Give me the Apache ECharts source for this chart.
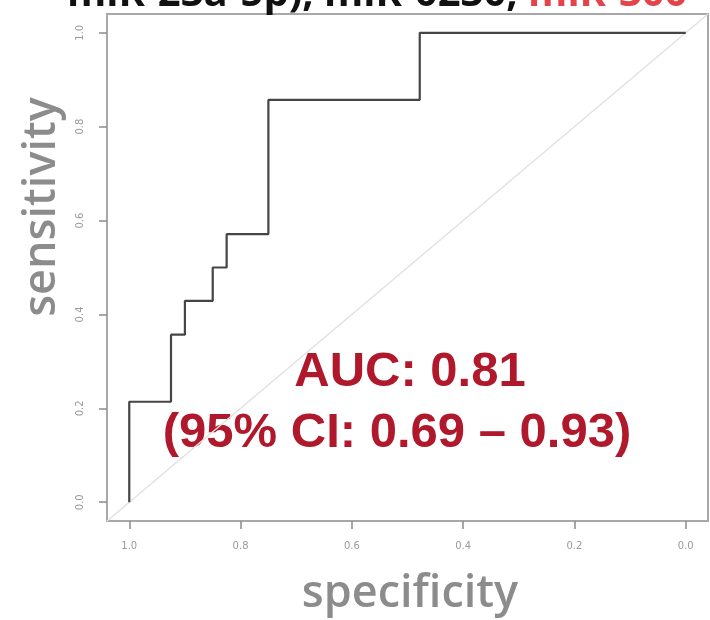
<!DOCTYPE html>
<html><head><meta charset="utf-8">
<script src="https://cdn.jsdelivr.net/npm/echarts@6/dist/echarts.min.js"></script>
<style>html,body{margin:0;padding:0;background:#fff}#c{width:710px;height:620px}</style>
</head><body><div id="c"></div>
<script>
const specificity = [1.0, 0.925, 0.9, 0.85, 0.825, 0.75, 0.478, 0.0];
const sensitivity = [0.0, 0.214, 0.357, 0.429, 0.5, 0.571, 0.857, 1.0];
const tickValues = [0.0, 0.2, 0.4, 0.6, 0.8, 1.0];
const xTickLabels = ['0.0', '0.2', '0.4', '0.6', '0.8', '1.0'];
const yTickLabels = ['0.0', '0.2', '0.4', '0.6', '0.8', '1.0'];
const chanceX = [1.04, -0.04];
const chanceY = [-0.04, 1.04];
const titleBlack = 'miR-23a-5p), miR-0230, ';
const titleRed = 'miR-300';
const aucText = 'AUC: 0.81';
const ciText = '(95% CI: 0.69 \u2013 0.93)';
const xName = 'specificity';
const yName = 'sensitivity';

const chart = echarts.init(document.getElementById('c'), null, {renderer: 'canvas'});
const tickFmt = (labels) => (v) => labels[Math.round(v / 0.2)];
const grey = '#9a9a9a';
const red = '#b0182c';
const axisCommon = {
  type: 'value', min: -0.04, max: 1.04,
  axisLine: {show: true, onZero: false, lineStyle: {color: '#a8a8a8', width: 2}}, splitLine: {show: false},
  axisTick: {show: true, inside: false, length: 8, customValues: tickValues, lineStyle: {color: '#8a8a8a', width: 1.5}}
};

chart.setOption({
  animation: false,
  backgroundColor: '#fff',
  title: {
    text: '{a|' + titleBlack + '}{b|' + titleRed + '}',
    left: 62, top: -30,
    textStyle: {
      rich: {
        a: {color: '#111', fontSize: 40, fontWeight: 'bold', fontFamily: 'Open Sans'},
        b: {color: '#e5434a', fontSize: 40, fontWeight: 'bold', fontFamily: 'Open Sans'}
      }
    }
  },
  grid: {left: 107, top: 14, width: 601, height: 507, show: true, borderColor: '#a8a8a8', borderWidth: 2, backgroundColor: 'transparent'},
  xAxis: Object.assign({}, axisCommon, {
    inverse: true, position: 'bottom',
    axisLabel: {customValues: tickValues, color: grey, fontSize: 10, margin: 20, formatter: tickFmt(xTickLabels), fontFamily: 'DejaVu Sans'}
  }),
  yAxis: Object.assign({}, axisCommon, {
    position: 'left',
    axisLabel: {customValues: tickValues, color: grey, fontSize: 10, margin: 22, rotate: 90, formatter: tickFmt(yTickLabels), fontFamily: 'DejaVu Sans'}
  }),
  series: [
    {type: 'line', clip: false, symbol: 'none', silent: true,
     data: chanceX.map((x, i) => [x, chanceY[i]]),
     lineStyle: {color: '#e2e2e2', width: 1.5}},
    {type: 'line', step: 'start', symbol: 'none', clip: false,
     data: specificity.map((s, i) => [s, sensitivity[i]]),
     lineStyle: {color: '#454545', width: 2.2}}
  ],
  graphic: [
    {type: 'text', x: 410, y: 372, style: {text: aucText, align: 'center', verticalAlign: 'middle', fill: red, font: 'bold 49px "Liberation Sans", Arial, sans-serif'}},
    {type: 'text', x: 397, y: 433, style: {text: ciText, align: 'center', verticalAlign: 'middle', fill: red, font: 'bold 49px "Liberation Sans", Arial, sans-serif'}},
    {type: 'text', x: 410, y: 594, style: {text: xName, align: 'center', verticalAlign: 'middle', fill: '#8c8c8c', font: '600 45px "Open Sans", sans-serif'}},
    {type: 'text', x: 42, y: 207, rotation: Math.PI / 2, style: {text: yName, align: 'center', verticalAlign: 'middle', fill: '#8c8c8c', font: '600 45px "Open Sans", sans-serif'}}
  ]
});
</script>
</body></html>
